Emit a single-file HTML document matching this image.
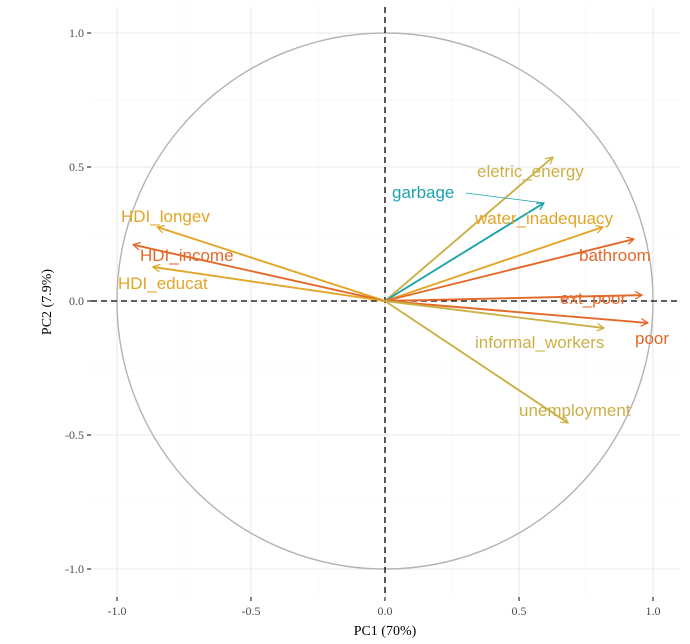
<!DOCTYPE html>
<html><head><meta charset="utf-8"><style>
body{margin:0;background:#fff}
svg{display:block}
</style></head><body>
<svg id="chart" width="690" height="644"></svg>
<script>
const varNames=["HDI_longev","HDI_income","HDI_educat","eletric_energy","garbage","water_inadequacy","bathroom","ext_poor","poor","informal_workers","unemployment"];
const pc1=[-0.85,-0.94,-0.866,0.627,0.593,0.813,0.929,0.959,0.981,0.817,0.683];
const pc2=[0.276,0.21,0.127,0.537,0.366,0.276,0.231,0.022,-0.082,-0.101,-0.455];
const groups=["gold","red","gold","khaki","teal","gold","red","red","red","khaki","khaki"];
const labelX=[121,140,118,477,392,475,579,560,635,475,519];
const labelY=[216,255,283,171,192,218,255,298,338,342,410];
const ticks=[-1,-0.5,0,0.5,1];
const tickLabels=["-1.0","-0.5","0.0","0.5","1.0"];
const colors={gold:"#e2a526",red:"#e3692a",khaki:"#cbb048",teal:"#1ba3ad"};
const NS="http://www.w3.org/2000/svg";
const svg=document.getElementById("chart");
const sx=v=>385+v*268, sy=v=>301-v*268;
function mk(tag,attrs,parent){const e=document.createElementNS(NS,tag);for(const k in attrs)e.setAttribute(k,attrs[k]);(parent||svg).appendChild(e);return e;}
const defs=mk("defs",{});
for(const g in colors){const m=mk("marker",{id:"ar-"+g,viewBox:"0 0 10 10",refX:"9",refY:"5",markerWidth:"8",markerHeight:"8",orient:"auto",markerUnits:"userSpaceOnUse"},defs);
mk("path",{d:"M0,0 L9,5 L0,10",fill:"none",stroke:colors[g],"stroke-width":"1.6"},m);}
for(let v=-1;v<=1.001;v+=0.25){
 const major=Math.abs(v*2-Math.round(v*2))<1e-6;
 const gx=mk("line",{x1:sx(v),x2:sx(v),y1:7,y2:597,stroke:major?"#e8e8e8":"#f3f3f3","stroke-width":major?1.1:0.6});
 
 const gy=mk("line",{x1:91,x2:680,y1:sy(v),y2:sy(v),stroke:major?"#e8e8e8":"#f3f3f3","stroke-width":major?1.1:0.6});
 
}
const circ=mk("circle",{cx:sx(0),cy:sy(0),r:268,fill:"none",stroke:"#b3b3b3","stroke-width":1.4});

const h=mk("line",{x1:91,x2:680,y1:sy(0),y2:sy(0),stroke:"#000","stroke-width":1.3,"stroke-dasharray":"6,4"});

const vl=mk("line",{x1:sx(0),x2:sx(0),y1:7,y2:597,stroke:"#000","stroke-width":1.3,"stroke-dasharray":"6,4"});

ticks.forEach((t,i)=>{
 const a=mk("line",{x1:sx(t),x2:sx(t),y1:597,y2:601,stroke:"#333","stroke-width":1.2});
 
 const tl=mk("text",{x:sx(t),y:615,"text-anchor":"middle","font-family":"Liberation Serif, serif","font-size":"12",fill:"#4d4d4d"});
 tl.textContent=tickLabels[i];
 
 const b=mk("line",{x1:87,x2:91,y1:sy(t),y2:sy(t),stroke:"#333","stroke-width":1.2});
 
 const yl=mk("text",{x:84,y:sy(t)+4,"text-anchor":"end","font-family":"Liberation Serif, serif","font-size":"12",fill:"#4d4d4d"});
 yl.textContent=tickLabels[i];
 
});
const xt=mk("text",{x:385,y:635,"text-anchor":"middle","font-family":"Liberation Serif, serif","font-size":"14",fill:"#000"});
xt.textContent="PC1 (70%)";
const yt=mk("text",{x:0,y:0,transform:"translate(51,302) rotate(-90)","text-anchor":"middle","font-family":"Liberation Serif, serif","font-size":"14",fill:"#000"});
yt.textContent="PC2 (7.9%)";
varNames.forEach((n,i)=>{
 const c=colors[groups[i]];
 const ln=mk("line",{x1:sx(0),y1:sy(0),x2:sx(pc1[i]),y2:sy(pc2[i]),stroke:c,"stroke-width":1.9,"marker-end":"url(#ar-"+groups[i]+")"});
 
 if(n==="garbage"){
  const cl=mk("line",{x1:466,y1:193,x2:sx(pc1[i]),y2:sy(pc2[i]),stroke:c,"stroke-width":0.8});
  
 }
 const t=mk("text",{x:labelX[i],y:labelY[i]+6,"font-family":"Liberation Sans, sans-serif","font-size":"17",fill:c});
 t.textContent=n;
 
});
</script>
</body></html>
